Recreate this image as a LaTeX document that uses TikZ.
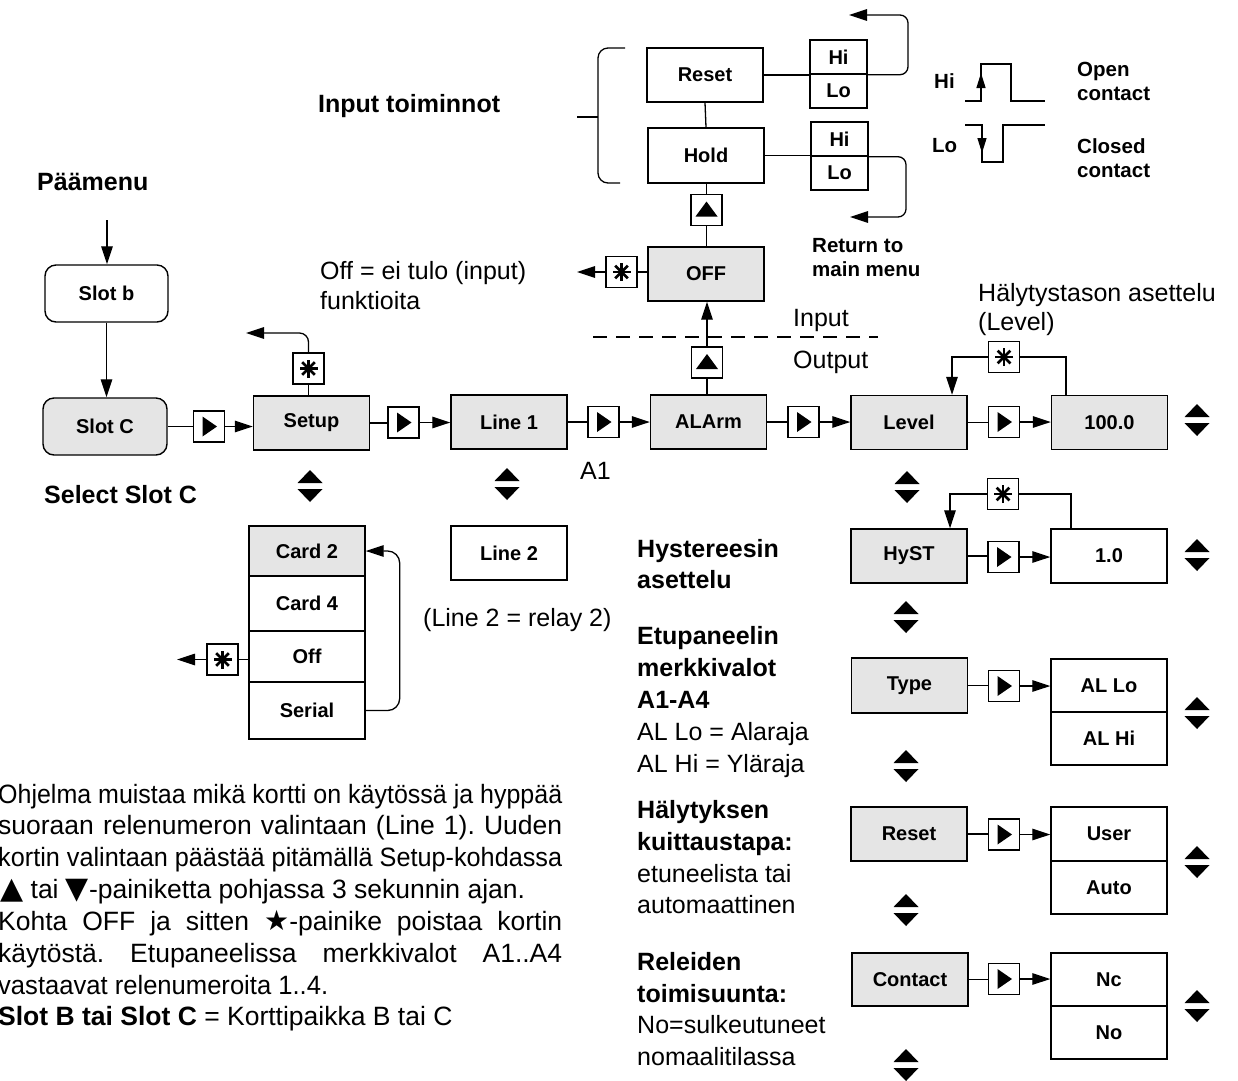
\documentclass[tikz,border=0pt]{standalone}
\usepackage{fontspec}
\usepackage{graphicx}
\setmainfont{Liberation Sans}
\newfontfamily\symf{DejaVu Sans}
\usetikzlibrary{arrows.meta}
\definecolor{boxgray}{gray}{0.9}
\tikzset{
  conn/.style={line width=1.3pt},
  arr/.style={line width=1.3pt,-{Triangle[length=18pt,width=11.5pt]}},
  bx/.style={draw,line width=1.4pt,minimum width=116pt,minimum height=54pt,inner sep=0pt,font=\bfseries\fontsize{20}{24}\selectfont},
  gbx/.style={bx,fill=boxgray},
  hl/.style={bx,minimum width=57pt,minimum height=34pt},
  ibx/.style={draw,line width=1.3pt,minimum width=31pt,minimum height=31pt,inner sep=0pt},
  txt/.style={inner sep=0pt,anchor=base west,font=\fontsize{25}{30}\selectfont},
  ptxt/.style={inner sep=0pt,anchor=base west,font=\fontsize{26.5}{30}\selectfont},
  btxt/.style={inner sep=0pt,anchor=base west,font=\bfseries\fontsize{25}{30}\selectfont},
  stxt/.style={inner sep=0pt,anchor=base west,font=\bfseries\fontsize{20.5}{24}\selectfont},
  rtri/.pic={\fill (-6.5,-10) -- (-6.5,10) -- (8,0) -- cycle;},
  utri/.pic={\fill (-11,6.5) -- (11,6.5) -- (0,-8.5) -- cycle;},
  astk/.pic={\foreach \a in {0,45,90,135}{\draw[line width=2.6pt] (\a:9) -- (\a+180:9);}},
  updown/.pic={\fill (-12.5,-3) -- (12.5,-3) -- (0,-16) -- cycle; \fill (-12.5,3) -- (12.5,3) -- (0,16) -- cycle;},
}
\newcommand\upsym{{\symf\fontsize{30}{30}\selectfont ▲}}
\newcommand\dnsym{{\symf\fontsize{30}{30}\selectfont ▼}}
\newcommand\stsym{{\symf\fontsize{28}{30}\selectfont ★}}
\begin{document}
\frenchspacing
\begin{tikzpicture}[x=1pt,y=-1pt]
\useasboundingbox (0,0) rectangle (1238,1080);

% ---------- top: input functions ----------
\node[bx] (reset) at (705,75) {Reset};
\node[bx,minimum height=55pt] (hold) at (706,155.5) {Hold};
\node[hl] (rhi) at (838.5,57) {Hi};
\node[hl] (rlo) at (838.5,91) {Lo};
\node[hl] (hhi) at (839.5,139) {Hi};
\node[hl] (hlo) at (839.5,173) {Lo};
\draw[conn] (reset.south) -- (hold.north);
\draw[conn] (reset.east) -- (reset.east -| rhi.west);
\draw[conn] (hold.east) -- (hold.east -| hhi.west);
\coordinate (ret1) at (849,15);
\coordinate (ret2) at (850,217);
\draw[arr,rounded corners=8pt] (rhi.south east) -| (908,15) -- (ret1);
\draw[arr,rounded corners=8pt] (hhi.south east) -| (906,217) -- (ret2);
\draw[conn,rounded corners=10pt] (625,48) -- (598,48) -- (598,183) -- (620,183);
\draw[conn] (577,117) -- (598,117);

\node[ibx] (iu1) at (706.5,210) {};
\pic at (iu1) {utri};
\node[gbx] (off) at (706,274) {OFF};
\draw[conn] (hold.south) -- (hold.south -| iu1.north) -- (iu1.north);
\draw[conn] (iu1.south) -- (iu1.south |- off.north);
\node[ibx] (is1) at (621.5,272) {};
\pic at (is1) {astk};
\draw[conn] (off.west |- is1.east) -- (is1.east);
\coordinate (ret4) at (577,272);
\draw[arr] (is1.west) -- (ret4);

\node[ibx] (iu2) at (707,362.5) {};
\pic at (iu2) {utri};
\draw[arr] (iu2.north) -- (iu2.north |- off.south);
\draw[conn,dash pattern=on 14pt off 9pt,line width=1.2pt] (593,337) -- (878,337);

% ---------- main row ----------
\node[bx,rounded corners=11pt,minimum width=123pt,minimum height=57pt] (slotb) at (106.5,293.5) {Slot b};
\node[bx,rounded corners=11pt,minimum width=124pt,minimum height=57pt,fill=boxgray] (slotc) at (105,426.5) {Slot C};
\coordinate (entry) at (107,220);
\draw[arr] (entry) -- (entry |- slotb.north);
\draw[arr] (slotb.south) -- (slotb.south |- slotc.north);

\node[ibx] (i1) at (209,426.5) {};
\node[gbx] (setup) at (311.5,423) {Setup};
\node[ibx] (i2) at (403.5,422.5) {};
\node[gbx] (line1) at (509,422) {Line 1};
\node[ibx] (i3) at (603.5,422) {};
\node[gbx] (alarm) at (708.5,422) {ALArm};
\node[ibx] (i4) at (803.5,422) {};
\node[gbx] (level) at (909,422.5) {Level};
\node[ibx] (i5) at (1004,422) {};
\node[gbx] (v100) at (1109.5,422.5) {100.0};
\foreach \n in {i1,i2,i3,i4,i5} {\pic at (\n) {rtri};}

\draw[conn] (slotc.east |- i1.west) -- (i1.west);
\draw[arr] (i1.east) -- (i1.east -| setup.west);
\draw[conn] (setup.east) -- (setup.east -| i2.west);
\draw[arr] (i2.east) -- (i2.east -| line1.west);
\draw[conn] (line1.east) -- (line1.east -| i3.west);
\draw[arr] (i3.east) -- (i3.east -| alarm.west);
\draw[conn] (alarm.east) -- (alarm.east -| i4.west);
\draw[arr] (i4.east) -- (i4.east -| level.west);
\draw[conn] (level.east) -- (level.east -| i5.west);
\draw[arr] (i5.east) -- (i5.east -| v100.west);
\draw[conn] (iu2.south) -- (iu2.south |- alarm.north);

% setup star
\node[ibx] (is2) at (308.5,368.5) {};
\pic at (is2) {astk};
\draw[conn] (is2.south) -- (is2.south |- setup.north);
\coordinate (ret3) at (246,333);
\draw[arr,rounded corners=9pt] (is2.north) |- (ret3);

% level star loop
\node[ibx] (is4) at (1004,357) {};
\pic at (is4) {astk};
\draw[conn] ([xshift=-43.5pt]v100.north) |- (is4.east);
\draw[arr] (is4.west) -| ([xshift=43pt]level.north);

% ---------- card list ----------
\node[gbx,minimum height=50pt] (card2) at (307,551) {Card 2};
\node[bx,minimum height=55pt] (card4) at (307,603.5) {Card 4};
\node[bx,minimum height=51pt] (off2) at (307,656.5) {Off};
\node[bx,minimum height=57pt] (serial) at (307,710.5) {Serial};
\draw[arr,rounded corners=12pt] (serial.east) -| ([xshift=34pt]card2.east) -- (card2.east);
\node[ibx] (is3) at (222.5,659.5) {};
\pic at (is3) {astk};
\draw[conn] (off2.west |- is3.east) -- (is3.east);
\coordinate (ret5) at (177,659.5);
\draw[arr] (is3.west) -- (ret5);

\node[bx] (line2) at (509,553) {Line 2};

% ---------- right column ----------
\node[gbx] (hyst) at (909,556) {HyST};
\node[ibx] (ih) at (1003.5,557) {};
\node[bx] (v10) at (1109,556) {1.0};
\node[ibx] (is5) at (1003,494) {};
\pic at (is5) {astk};
\draw[conn] ([xshift=-38pt]v10.north) |- (is5.east);
\draw[arr] (is5.west) -| ([xshift=41pt]hyst.north);

\node[gbx,minimum height=55pt] (type) at (909.5,685.5) {Type};
\node[ibx] (it) at (1004,686) {};
\node[bx,minimum height=53pt] (allo) at (1109,685.5) {AL Lo};
\node[bx,minimum height=53pt] (alhi) at (1109,738.5) {AL Hi};

\node[gbx] (reset2) at (909,834) {Reset};
\node[ibx] (ir) at (1004,834.5) {};
\node[bx] (user) at (1109,834) {User};
\node[bx,minimum height=53pt] (auto) at (1109,887.5) {Auto};

\node[gbx,minimum height=53pt] (contact) at (910,979.5) {Contact};
\node[ibx] (ic) at (1004,979) {};
\node[bx,minimum height=53pt] (nc) at (1109,979.5) {Nc};
\node[bx,minimum height=53pt] (no) at (1109,1032.5) {No};

\foreach \n in {ih,it,ir,ic} {\pic at (\n) {rtri};}
\draw[conn] (hyst.east) -- (hyst.east -| ih.west);
\draw[arr] (ih.east) -- (ih.east -| v10.west);
\draw[conn] (type.east) -- (type.east -| it.west);
\draw[arr] (it.east) -- (it.east -| allo.west);
\draw[conn] (reset2.east) -- (reset2.east -| ir.west);
\draw[arr] (ir.east) -- (ir.east -| user.west);
\draw[conn] (contact.east) -- (contact.east -| ic.west);
\draw[arr] (ic.east) -- (ic.east -| nc.west);

% up/down symbols
\foreach \p in {(310,486),(507,484),(907,487),(906,617),(906,766),(906,910),(906,1065),
                (1197,420),(1197,555),(1197,713),(1197,862),(1197,1006)} {\pic at \p {updown};}

% waveforms
\draw[conn] (965,101) -- (981,101) -- (981,64) -- (1011,64) -- (1011,101) -- (1045,101);
\draw[-{Triangle[length=15pt,width=9pt]},line width=1.3pt] (981,90) -- (981,73);
\draw[conn] (965,125) -- (982,125) -- (982,162) -- (1003,162) -- (1003,125) -- (1045,125);
\draw[-{Triangle[length=15pt,width=9pt]},line width=1.3pt] (982,137) -- (982,153);

% ---------- texts ----------
\node[btxt] (t1) at (37,190) {Päämenu};
\node[btxt] (t2) at (318,112) {Input toiminnot};
\node[txt] (t3) at (320,279) {Off = ei tulo (input)};
\node[txt] (t4) at (320,309) {funktioita};
\node[txt] (t5) at (793,326) {Input};
\node[txt] (t6) at (793,368) {Output};
\node[stxt] (t7) at (812,252) {Return to};
\node[stxt] (t8) at (812,276) {main menu};
\node[txt] (t9) at (978,301) {Hälytystason asettelu};
\node[txt] (t10) at (978,330) {(Level)};
\node[stxt] (t11) at (934,88) {Hi};
\node[stxt] (t12) at (932,152) {Lo};
\node[stxt] (t13) at (1077,76) {Open};
\node[stxt] (t14) at (1077,100) {contact};
\node[stxt] (t15) at (1077,153) {Closed};
\node[stxt] (t16) at (1077,177) {contact};
\node[btxt] (t17) at (44,503) {Select Slot C};
\node[txt] (t18) at (580,479) {A1};
\node[txt] (t19) at (423,626) {(Line 2 = relay 2)};

\node[btxt] (r1) at (637,557) {Hystereesin};
\node[btxt] (r2) at (637,588) {asettelu};
\node[btxt] (r3) at (637,644) {Etupaneelin};
\node[btxt] (r4) at (637,676) {merkkivalot};
\node[btxt] (r5) at (637,708) {A1-A4};
\node[txt] (r6) at (637,740) {AL Lo = Alaraja};
\node[txt] (r7) at (637,772) {AL Hi = Yläraja};
\node[btxt] (r8) at (637,818) {Hälytyksen};
\node[btxt] (r9) at (637,850) {kuittaustapa:};
\node[txt] (r10) at (637,882) {etuneelista tai};
\node[txt] (r11) at (637,913) {automaattinen};
\node[btxt] (r12) at (637,970) {Releiden};
\node[btxt] (r13) at (637,1002) {toimisuunta:};
\node[txt] (r14) at (637,1033) {No=sulkeutuneet};
\node[txt] (r15) at (637,1065) {nomaalitilassa};

% paragraph
\node[ptxt] (p1) at (-2,803) {\resizebox{564pt}{\height}{Ohjelma muistaa mikä kortti on käytössä ja hyppää}};
\node[ptxt] (p2) at (-2,834) {\makebox[564pt][s]{suoraan relenumeron valintaan (Line 1). Uuden}};
\node[ptxt] (p3) at (-2,866) {\resizebox{564pt}{\height}{kortin valintaan päästää pitämällä Setup-kohdassa}};
\node[ptxt] (p4) at (0,898) {\upsym\ tai \dnsym-painiketta pohjassa 3 sekunnin ajan.};
\node[ptxt] (p5) at (-2,930) {\makebox[564pt][s]{Kohta OFF ja sitten \stsym-painike poistaa kortin}};
\node[ptxt] (p6) at (-2,962) {\makebox[564pt][s]{käytöstä. Etupaneelissa merkkivalot A1..A4}};
\node[ptxt] (p7) at (-2,994) {\resizebox{330pt}{\height}{vastaavat relenumeroita 1..4.}};
\node[ptxt] (p8) at (-2,1025) {\textbf{Slot B tai Slot C} = Korttipaikka B tai C};
\end{tikzpicture}
\end{document}
